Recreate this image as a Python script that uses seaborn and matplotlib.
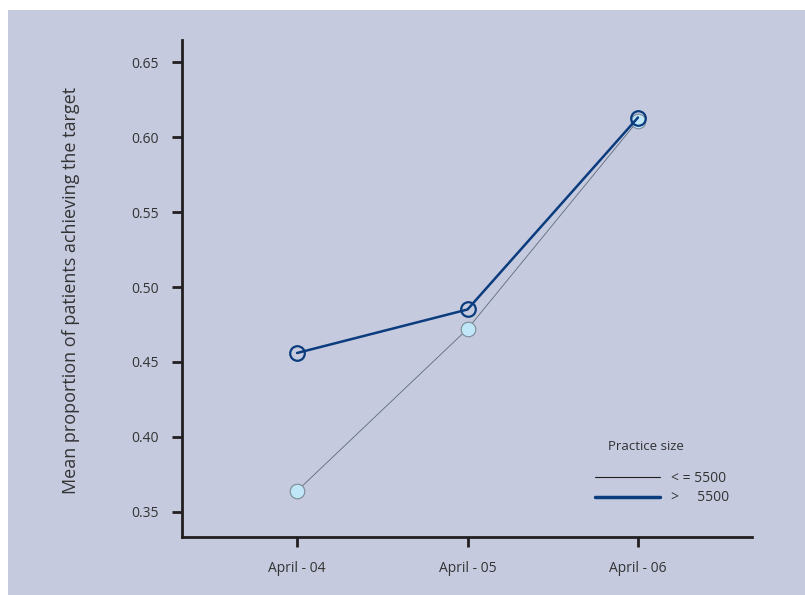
import pandas as pd
import matplotlib
matplotlib.use("Agg")
import matplotlib.pyplot as plt
import seaborn as sns
from matplotlib.lines import Line2D
from matplotlib.patches import Rectangle

# data
periods = ["April - 04", "April - 05", "April - 06"]
small_practice = [0.364, 0.472, 0.611]   # <= 5500
large_practice = [0.456, 0.485, 0.613]   # > 5500
y_ticks = [0.35, 0.40, 0.45, 0.50, 0.55, 0.60, 0.65]

navy = "#0b3c7d"
panel = "#c5cadf"
ink = "#231f20"
text_col = "#333333"

df = pd.DataFrame({
    "x": list(range(len(periods))) * 2,
    "value": small_practice + large_practice,
    "size": ["<= 5500"] * 3 + ["> 5500"] * 3,
})

sns.set_style("white")
plt.rcParams["font.family"] = ["Open Sans", "DejaVu Sans"]

fig = plt.figure(figsize=(8.05, 5.95), dpi=100, facecolor="white")
fig.patches.append(Rectangle((8 / 805, 0), 1, 585 / 595, transform=fig.transFigure,
                             facecolor=panel, edgecolor="none", zorder=-10))
ax = fig.add_axes([182 / 805, 1 - 537 / 595, 570 / 805, 497 / 595])
ax.set_facecolor("none")

sns.lineplot(data=df[df["size"] == "<= 5500"], x="x", y="value", ax=ax,
             color="#5d6b78", linewidth=0.6, marker="o", markersize=10.5,
             markerfacecolor="#bfe7f8", markeredgecolor="#7d8a96",
             markeredgewidth=0.8, zorder=3)
sns.lineplot(data=df[df["size"] == "> 5500"], x="x", y="value", ax=ax,
             color=navy, linewidth=1.8, marker="o", markersize=10.5,
             markerfacecolor="none", markeredgecolor=navy,
             markeredgewidth=1.6, zorder=4)

ax.set_xlim(-0.675, 2.669)
ax.set_ylim(0.3333, 0.6647)
ax.set_xticks(range(len(periods)))
ax.set_xticklabels(periods)
ax.set_yticks(y_ticks)
ax.set_yticklabels([f"{v:.2f}" for v in y_ticks])
ax.tick_params(axis="y", direction="out", length=7, width=2, color=ink,
               pad=10, labelsize=10, labelcolor=text_col, left=True)
ax.tick_params(axis="x", direction="out", length=7, width=2, color=ink,
               pad=10, labelsize=10, labelcolor=text_col, bottom=True)

for side in ["top", "right"]:
    ax.spines[side].set_visible(False)
for side in ["left", "bottom"]:
    ax.spines[side].set_color(ink)
    ax.spines[side].set_linewidth(2)

ax.set_xlabel("")
ax.set_ylabel("Mean proportion of patients achieving the target",
              fontsize=13, color=text_col)
ax.yaxis.set_label_coords(-0.179, 0.497)

# legend title drawn on its own, the entries sit lower than a normal title gap
fig.text(646 / 805, 1 - 447 / 595, "Practice size", ha="center", va="center",
         fontsize=9.5, color=text_col)
handles = [Line2D([], [], color=ink, linewidth=0.8),
           Line2D([], [], color=navy, linewidth=2.5)]
leg = ax.legend(handles, ["< = 5500", ">     5500"],
                loc="upper left", bbox_to_anchor=(582 / 805, 1 - 458 / 595),
                bbox_transform=fig.transFigure, frameon=False, fontsize=10,
                handlelength=4.7, handletextpad=0.8, labelspacing=0.35)
for t in leg.get_texts():
    t.set_color(text_col)

fig.savefig("out.png", dpi=100, facecolor="white")
